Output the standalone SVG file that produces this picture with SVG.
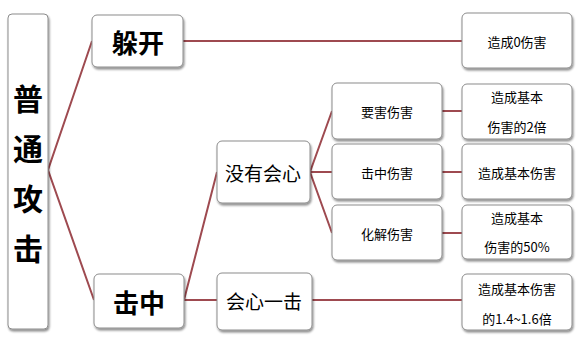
<svg xmlns="http://www.w3.org/2000/svg" width="580" height="340" viewBox="0 0 580 340">
<defs>
<filter id="sh" x="-10%" y="-10%" width="130%" height="130%">
<feDropShadow dx="1" dy="2" stdDeviation="1.2" flood-color="#000" flood-opacity="0.45"/>
</filter>
</defs>
<style>
.box{fill:#fff;stroke:#8c8c8c;stroke-width:1;filter:url(#sh)}
.ln{stroke:#9e4a50;stroke-width:2;fill:none}
text{font-family:"Microsoft YaHei","Noto Sans CJK SC","Liberation Sans",sans-serif;text-anchor:middle;dominant-baseline:central;fill:#000}
.b{font-weight:bold}
.s{font-size:13px}
.m{font-size:19px}
</style>
<rect width="580" height="340" fill="#fff"/>
<g id="connectors">
<polyline class="ln" points="92,41 48,170 94,300"/>
<line class="ln" x1="183" y1="41" x2="462" y2="41"/>
<polyline class="ln" points="217,172 184,300 217,300"/>
<line class="ln" x1="312" y1="300" x2="462" y2="300"/>
<polyline class="ln" points="332,111 310,172 332,233"/>
<line class="ln" x1="310" y1="172" x2="332" y2="172"/>
<line class="ln" x1="442" y1="111" x2="462" y2="111"/>
<line class="ln" x1="442" y1="172" x2="462" y2="172"/>
<line class="ln" x1="442" y1="233" x2="462" y2="233"/>
</g>
<g id="n-root">
<rect class="box" x="8" y="14" width="40" height="315" rx="4"/>
<text class="b" x="28" y="97" font-size="30">普</text>
<text class="b" x="28" y="147" font-size="30">通</text>
<text class="b" x="28" y="197" font-size="30">攻</text>
<text class="b" x="28" y="247" font-size="30">击</text>
</g>
<g id="n-dodge">
<rect class="box" x="92" y="15" width="91" height="52" rx="5"/>
<text class="b" x="138" y="41" font-size="26">躲开</text>
</g>
<g id="n-hit">
<rect class="box" x="94" y="274" width="90" height="54" rx="5"/>
<text class="b" x="139" y="301" font-size="26">击中</text>
</g>
<g id="n-nocrit">
<rect class="box" x="217" y="141" width="93" height="62" rx="5"/>
<text class="m" x="263" y="172">没有会心</text>
</g>
<g id="n-crit">
<rect class="box" x="217" y="273" width="95" height="57" rx="5"/>
<text class="m" x="264" y="300">会心一击</text>
</g>
<g id="n-vital">
<rect class="box" x="332" y="83" width="110" height="56" rx="5"/>
<text class="s" x="387" y="111">要害伤害</text>
</g>
<g id="n-normal">
<rect class="box" x="332" y="144" width="110" height="55" rx="5"/>
<text class="s" x="387" y="172">击中伤害</text>
</g>
<g id="n-resolve">
<rect class="box" x="332" y="205" width="110" height="55" rx="5"/>
<text class="s" x="387" y="233">化解伤害</text>
</g>
<g id="r-0">
<rect class="box" x="462" y="13" width="110" height="55" rx="5"/>
<text class="s" x="517" y="41">造成0伤害</text>
</g>
<g id="r-2x">
<rect class="box" x="462" y="84" width="110" height="55" rx="5"/>
<text class="s" x="517" y="96">造成基本</text>
<text class="s" x="517" y="126">伤害的2倍</text>
</g>
<g id="r-1x">
<rect class="box" x="462" y="144" width="110" height="55" rx="5"/>
<text class="s" x="517" y="172">造成基本伤害</text>
</g>
<g id="r-half">
<rect class="box" x="462" y="205" width="110" height="54" rx="5"/>
<text class="s" x="517" y="217">造成基本</text>
<text class="s" x="517" y="246">伤害的50%</text>
</g>
<g id="r-crit">
<rect class="box" x="462" y="274" width="110" height="56" rx="5"/>
<text class="s" x="517" y="288">造成基本伤害</text>
<text class="s" x="517" y="318">的1.4~1.6倍</text>
</g>
</svg>
